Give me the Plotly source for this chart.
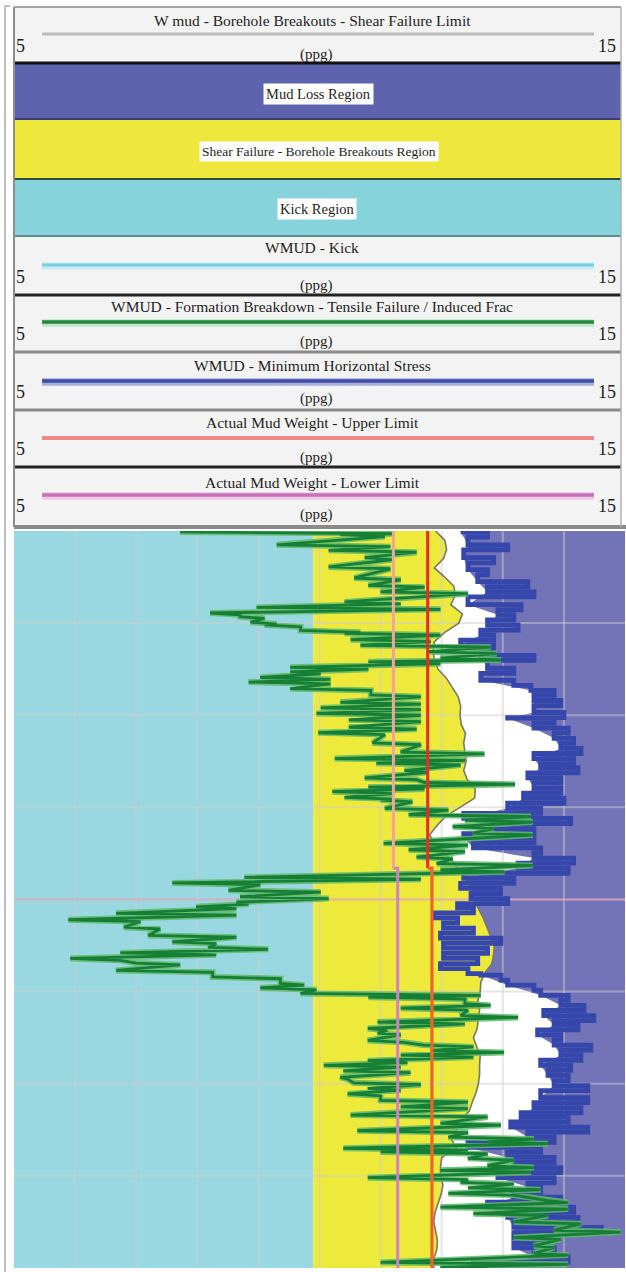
import plotly.graph_objects as go

W, H = 626, 1272

# ---------------- data (depth units: 0 top .. 800 bottom, grid every 100) ----------------
kick_depth = [0, 200, 400, 600, 800]
kick_ppg = [9.90, 9.90, 9.90, 9.90, 9.90]

shear_depth = list(range(0, 801, 10))
shear_ppg = [11.90, 12.05, 12.08, 12.03, 11.88, 12.05, 12.20, 12.22, 12.15, 12.34,
             12.28, 12.05, 11.88, 11.86, 11.88, 11.94, 12.08, 12.18, 12.27, 12.31,
             12.30, 12.32, 12.39, 12.36, 12.38, 12.40, 12.36, 12.42, 12.55, 12.54,
             12.30, 12.06, 11.92, 11.80, 11.90, 12.04, 12.20, 12.30, 12.42, 12.47,
             12.52, 12.60, 12.68, 12.74, 12.80, 12.86, 12.85, 12.82, 12.70, 12.64,
             12.63, 12.59, 12.62, 12.60, 12.58, 12.52, 12.58, 12.63, 12.62, 12.62,
             12.60, 12.56, 12.50, 12.45, 12.30, 12.24, 12.16, 12.24, 12.00, 11.98,
             11.98, 12.02, 11.99, 11.94, 11.89, 11.87, 11.90, 11.93, 11.92, 11.87,
             11.87]

mw_lower_depth_a = [0, 366]
mw_lower_a = [11.21, 11.21]
mw_lower_depth_b = [366, 366, 800]
mw_lower_b = [11.21, 11.28, 11.28]
mw_upper_depth_a = [0, 366]
mw_upper_a = [11.77, 11.77]
mw_upper_depth_b = [366, 366, 800]
mw_upper_b = [11.77, 11.84, 11.84]

blue_depth = [1, 15, 29, 42, 55, 66, 80, 91, 102, 113, 124, 135, 149, 162, 173, 184, 197,
              203, 214, 225, 236, 247, 257, 268, 279, 290, 301, 312, 323, 333, 344, 355,
              366, 377, 388, 399, 409, 420, 431, 442, 453, 464, 475, 482, 493, 504, 515,
              526, 536, 547, 558, 569, 580, 591, 602, 615, 626, 636, 647, 658, 669, 680,
              691, 702, 712, 723, 734, 745, 756, 767, 778, 788, 799]
blue_lo = [12.31, 12.43, 12.36, 12.43, 12.59, 12.75, 12.43, 12.92, 12.75, 12.64, 12.31, 12.64,
           12.75, 12.64, 13.46, 13.51, 13.51, 13.08, 13.51, 13.84, 13.95, 13.51, 13.62, 13.41,
           13.51, 13.34, 13.08, 12.36, 12.85, 12.36, 12.52, 13.51, 13.25, 12.36, 12.31, 12.48,
           12.26, 11.87, 12.03, 11.98, 12.03, 12.03, 11.98, 12.64, 13.08, 13.62, 13.95, 13.67,
           13.84, 13.57, 13.84, 13.95, 13.62, 13.74, 13.84, 13.62, 13.51, 13.30, 13.13, 13.41,
           12.43, 13.08, 13.18, 12.92, 13.41, 13.18, 12.75, 13.08, 13.18, 13.18, 13.18, 13.51,
           12.52]
blue_hi = [12.75, 13.08, 12.85, 12.75, 13.41, 13.51, 13.30, 13.18, 13.25, 12.85, 12.85, 13.51,
           13.18, 13.18, 13.84, 13.95, 14.00, 13.84, 14.07, 14.16, 14.28, 14.16, 14.23, 13.95,
           13.95, 14.00, 13.62, 14.11, 13.51, 13.51, 13.62, 14.16, 14.07, 13.18, 12.97, 13.08,
           12.52, 12.26, 12.52, 12.97, 12.75, 12.59, 12.43, 12.97, 13.51, 14.07, 14.33, 14.49,
           14.23, 13.95, 14.44, 14.28, 14.11, 14.07, 14.39, 14.39, 14.28, 14.07, 14.39, 13.84,
           13.62, 13.84, 13.95, 13.84, 13.62, 13.95, 14.16, 14.23, 14.61, 13.74, 13.84, 14.07,
           13.51]

green_depth = [1, 4, 15, 21, 29, 39, 51, 59, 66, 77, 83, 89, 93, 99, 102, 108, 111, 118, 124,
               131, 138, 142, 148, 153, 159, 164, 171, 178, 186, 192, 198, 205, 213, 219, 230,
               240, 247, 252, 260, 268, 273, 278, 283, 289, 292, 301, 308, 314, 321, 328, 339,
               346, 354, 361, 368, 376, 382, 390, 397, 403, 408, 415, 422, 430, 439, 446, 452,
               458, 464, 469, 477, 484, 491, 496, 502, 506, 513, 518, 526, 533, 540, 545, 553,
               558, 564, 569, 575, 580, 586, 593, 599, 605, 611, 618, 625, 634, 643, 651, 658,
               663, 670, 674, 681, 689, 694, 702, 707, 713, 719, 727, 734, 741, 750, 759, 767,
               776, 784, 794, 799]
green_lo = [7.72, 10.34, 9.30, 10.15, 10.74, 10.15, 10.57, 10.80, 11.00, 10.41, 8.97, 8.21, 8.70,
            8.87, 9.10, 9.69, 10.41, 10.51, 10.67, 11.77, 11.98, 10.80, 9.52, 9.52, 9.03, 8.84,
            9.52, 10.84, 10.34, 10.02, 9.95, 10.48, 10.48, 9.98, 10.87, 11.33, 10.25, 10.93,
            11.39, 10.74, 11.72, 10.80, 10.21, 10.41, 11.00, 11.07, 11.46, 12.38, 12.18, 12.51,
            11.05, 11.46, 11.59, 11.92, 11.98, 8.77, 7.59, 8.51, 8.70, 8.64, 7.98, 6.67, 5.89,
            6.80, 7.20, 7.59, 8.18, 6.74, 5.92, 7.00, 6.67, 8.25, 9.36, 9.03, 9.69, 10.80, 12.38,
            11.33, 12.31, 10.95, 10.79, 10.95, 10.79, 11.70, 11.82, 11.33, 10.79, 10.07, 10.39,
            10.34, 10.56, 10.79, 10.46, 11.00, 11.33, 10.51, 11.98, 10.62, 12.11, 12.75, 10.39,
            11.00, 12.43, 12.75, 11.98, 10.79, 12.31, 12.43, 12.11, 13.74, 11.98, 12.52, 13.18,
            13.84, 13.18, 13.51, 13.51, 11.00, 11.98]
green_hi = [11.20, 11.07, 11.16, 11.59, 11.20, 11.16, 11.33, 11.72, 12.43, 11.33, 11.98, 8.70,
            9.10, 9.30, 9.69, 10.67, 11.98, 11.82, 12.80, 12.90, 12.97, 11.98, 10.80, 10.02,
            10.18, 10.18, 10.84, 11.66, 11.66, 11.66, 11.66, 11.66, 11.59, 11.07, 11.66, 12.70,
            12.38, 12.31, 11.79, 11.59, 13.20, 11.72, 11.20, 11.20, 11.52, 12.11, 13.46, 13.49,
            12.84, 13.49, 12.43, 12.38, 12.18, 13.49, 13.03, 11.66, 9.03, 10.02, 10.15, 8.84,
            8.64, 8.64, 7.07, 7.39, 8.64, 8.31, 9.16, 8.31, 6.74, 7.72, 8.25, 9.36, 9.75, 9.95,
            12.64, 12.38, 12.80, 12.43, 13.25, 12.38, 11.11, 11.33, 11.38, 12.52, 13.02, 12.52,
            11.44, 11.33, 11.49, 10.46, 11.66, 11.33, 11.00, 12.43, 12.43, 12.75, 12.97, 12.43,
            13.51, 13.74, 12.43, 12.75, 13.18, 13.51, 13.46, 12.43, 13.18, 13.62, 13.18, 14.07,
            14.07, 13.74, 14.28, 14.93, 13.95, 13.84, 14.07, 14.07, 12.75]

grid_ppg = [6, 7, 8, 9, 10, 11, 12, 13, 14]
grid_depth = [100, 200, 300, 500, 600, 700]
marker_depth = 400

panel_titles = ["W mud - Borehole Breakouts - Shear Failure Limit",
                "WMUD - Kick",
                "WMUD - Formation Breakdown - Tensile Failure / Induced Frac",
                "WMUD - Minimum Horizontal Stress",
                "Actual Mud Weight - Upper Limit",
                "Actual Mud Weight - Lower Limit"]
region_labels = ["Mud Loss Region", "Shear Failure - Borehole Breakouts Region", "Kick Region"]
scale_min, scale_max, scale_unit = "5", "15", "(ppg)"

# ---------------- styling ----------------
C_CYAN = "#99d8e0"
C_YELLOW = "#eeea3b"
C_PURPLE = "#7373b8"
C_BLUE = "#3547aa"
C_GREEN = "#167f36"
C_GREEN_L = "#62b96a"
FONT = "Liberation Serif"


def zigzag(depths, lo, hi, off):
    xs, ys = [], []
    for d, a, b in zip(depths, lo, hi):
        xs += [a, b]
        ys += [d, d + off]
    return xs, ys


fig = go.Figure()
NOHOVER = dict(hoverinfo="skip", showlegend=False)

bx, by = zigzag(blue_depth, blue_lo, blue_hi, 5.5)
gx, gy = zigzag(green_depth, green_lo, green_hi, 2.0)

# purple: mud-loss region (from the left edge of the min-horizontal-stress band -> 15)
fig.add_trace(go.Scatter(x=[15, blue_lo[0]] + blue_lo + [blue_lo[-1], 15],
                         y=[0, 0] + blue_depth + [800, 800],
                         fill="toself", fillcolor=C_PURPLE, mode="lines",
                         line=dict(width=0), **NOHOVER))
# cyan: kick region
fig.add_trace(go.Scatter(x=[5] + kick_ppg + [5], y=[0] + kick_depth + [800],
                         fill="toself", fillcolor=C_CYAN, mode="lines",
                         line=dict(width=0), **NOHOVER))
# yellow: shear failure region
fig.add_trace(go.Scatter(x=kick_ppg + shear_ppg[::-1], y=kick_depth + shear_depth[::-1],
                         fill="toself", fillcolor=C_YELLOW, mode="lines",
                         line=dict(width=0), **NOHOVER))

# grid lines (drawn over fills)
gxs, gys = [], []
for v in grid_ppg:
    gxs += [v, v, None]
    gys += [0, 800, None]
for d in grid_depth:
    gxs += [5, 15, None]
    gys += [d, d, None]
fig.add_trace(go.Scatter(x=gxs, y=gys, mode="lines",
                         line=dict(color="rgba(205,205,205,0.5)", width=2), **NOHOVER))
fig.add_trace(go.Scatter(x=[5, 15], y=[marker_depth, marker_depth], mode="lines",
                         line=dict(color="rgba(226,168,188,0.85)", width=2), **NOHOVER))

# shear failure limit curve
fig.add_trace(go.Scatter(x=shear_ppg, y=shear_depth, mode="lines",
                         line=dict(color="#77776a", width=1.6), **NOHOVER))
# minimum horizontal stress
fig.add_trace(go.Scatter(x=bx, y=by, mode="lines",
                         line=dict(color=C_BLUE, width=4.8, shape="hv"), **NOHOVER))
# formation breakdown
fig.add_trace(go.Scatter(x=gx, y=gy, mode="lines",
                         line=dict(color=C_GREEN_L, width=6), opacity=0.85, **NOHOVER))
fig.add_trace(go.Scatter(x=gx, y=gy, mode="lines",
                         line=dict(color=C_GREEN, width=2.8), **NOHOVER))
# actual mud weight limits
fig.add_trace(go.Scatter(x=mw_lower_a, y=mw_lower_depth_a, mode="lines",
                         line=dict(color="#f2a39e", width=3), **NOHOVER))
fig.add_trace(go.Scatter(x=mw_lower_b, y=mw_lower_depth_b, mode="lines",
                         line=dict(color="#d47fc3", width=3), **NOHOVER))
fig.add_trace(go.Scatter(x=mw_upper_a, y=mw_upper_depth_a, mode="lines",
                         line=dict(color="#ec2a26", width=3), **NOHOVER))
fig.add_trace(go.Scatter(x=mw_upper_b, y=mw_upper_depth_b, mode="lines",
                         line=dict(color="#f0642a", width=3.2), **NOHOVER))


# ---------------- header (paper coordinates) ----------------
def X(px):
    return px / W


def Y(py):
    return 1 - py / H


shapes = []
annotations = []


def rect(x0, y0, x1, y1, fill, lw=0, lc=None):
    shapes.append(dict(type="rect", xref="paper", yref="paper",
                       x0=X(x0), x1=X(x1), y0=Y(y1), y1=Y(y0),
                       fillcolor=fill, line=dict(width=lw, color=lc or fill), layer="above"))


def hline(x0, x1, y, color, width):
    shapes.append(dict(type="line", xref="paper", yref="paper",
                       x0=X(x0), x1=X(x1), y0=Y(y), y1=Y(y),
                       line=dict(color=color, width=width), layer="above"))


def vline(x, y0, y1, color, width):
    shapes.append(dict(type="line", xref="paper", yref="paper",
                       x0=X(x), x1=X(x), y0=Y(y0), y1=Y(y1),
                       line=dict(color=color, width=width), layer="above"))


def text(t, px, py, size, bg=None):
    a = dict(text=t, x=X(px), y=Y(py), xref="paper", yref="paper", showarrow=False,
             xanchor="center", yanchor="middle",
             font=dict(family=FONT, size=size, color="#1e1e1e"))
    if bg:
        a.update(bgcolor=bg, borderpad=2)
    annotations.append(a)


L, R = 14, 621
# panel background
rect(L, 7, R, 527, "#f3f3f3")
# colored region bands
rect(L, 64, R, 118, "#5d63ad")
rect(L, 120, R, 178, "#ede83b")
rect(L, 180, R, 235, "#86d3dc")

# legend panels: (title_y, line_y, num_y, unit_y, color, halo, width)
legend_rows = [
    (21, 34, 46, 54, "#bcbcbc", None, 3),
    (248, 265, 277, 285, "#78cde0", "#c6edf4", 3),
    (307, 322, 334, 341, "#1f8a3e", "#c2e4c8", 3.5),
    (365, 381, 392, 399, "#3b4ea6", "#a9aede", 3.5),
    (423, 438, 449, 457, "#ee8a84", None, 4),
    (482, 495, 506, 514, "#c870b8", "#eccae6", 3.5),
]
for title, (ty, ly, ny, uy, col, halo, lw) in zip(panel_titles, legend_rows):
    if halo:
        hline(42, 594, ly + 1, halo, lw + 4)
    hline(42, 594, ly, col, lw)
    text(title, 312, ty, 15.5)
    text(scale_min, 20, ny, 18)
    text(scale_max, 607, ny, 18)
    text(scale_unit, 316, uy, 15)

text(region_labels[0], 318, 94, 14.5, bg="white")
text(region_labels[1], 319, 152, 13.5, bg="white")
text(region_labels[2], 317, 209, 14.5, bg="white")

# separators
hline(L, R, 7, "#8a8a8a", 1.5)
hline(L, R, 63, "#111111", 3)
hline(L, R, 119, "#3a3a78", 2)
hline(L, R, 179, "#2b4a3a", 2)
hline(L, R, 236, "#5f8b8b", 2)
hline(L, R, 295, "#222222", 3)
hline(L, R, 352, "#8a8a8a", 3)
hline(L, R, 410, "#8a8a8a", 3)
hline(L, R, 467, "#222222", 3)
hline(L, 626, 527, "#8a8a8a", 4)
vline(L, 7, 527, "#8e8e8e", 2)
vline(R, 7, 527, "#b0b0b0", 1.5)
# outer left border of the whole figure
vline(5, 6, 1272, "#a8a8a8", 1.5)
hline(5, 10, 6, "#a8a8a8", 1.5)

fig.update_layout(
    width=W, height=H,
    margin=dict(l=0, r=0, t=0, b=0),
    paper_bgcolor="white", plot_bgcolor="white",
    showlegend=False,
    shapes=shapes, annotations=annotations,
    xaxis=dict(range=[5, 15], domain=[14 / W, 625 / W], showgrid=False, zeroline=False,
               showticklabels=False, ticks="", fixedrange=True),
    yaxis=dict(range=[800, 0], domain=[1 - 1268 / H, 1 - 531 / H], showgrid=False,
               zeroline=False, showticklabels=False, ticks="", fixedrange=True),
)

fig.write_html("out.html", config={"displayModeBar": False},
               post_script="document.body.style.margin='0px';"
                           "document.body.style.overflow='hidden';")
